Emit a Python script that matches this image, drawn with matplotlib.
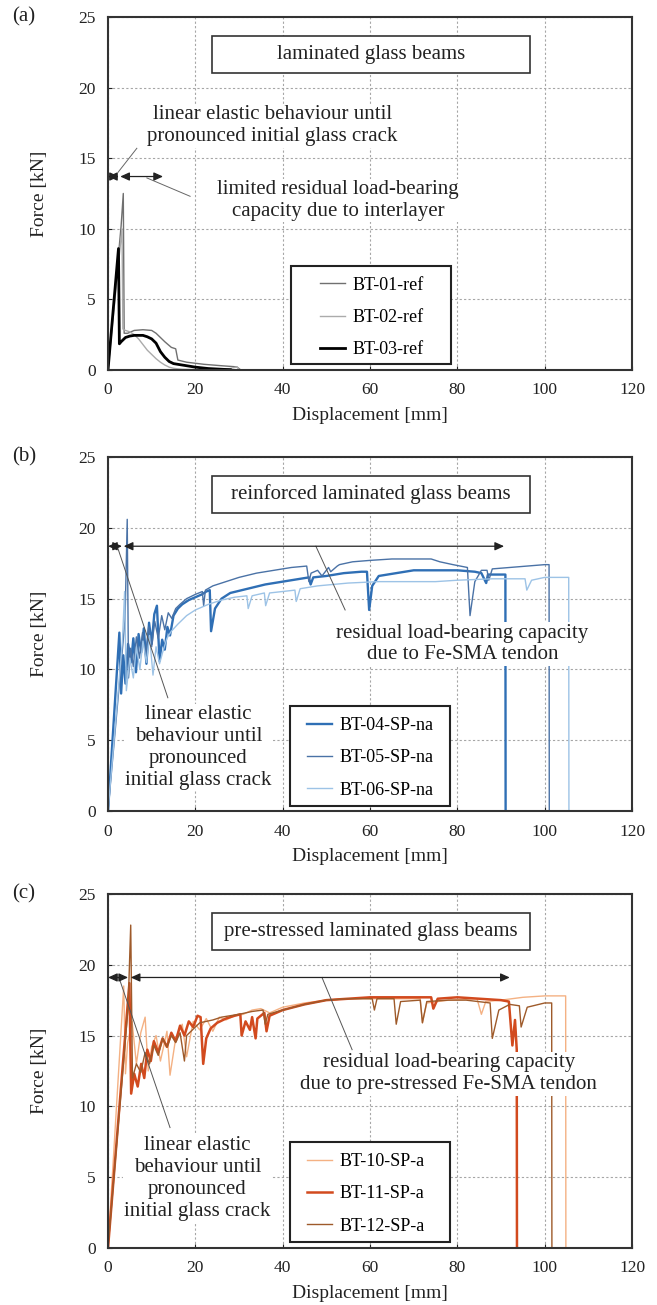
import numpy as np
import matplotlib
matplotlib.use("Agg")
import matplotlib.pyplot as plt
from matplotlib.patches import Rectangle

plt.rcParams['font.family'] = ['Liberation Serif', 'DejaVu Serif']

# (a) laminated glass reference beams
bt01_x = [0, 3.0, 3.5, 3.7, 4.5, 6, 8, 10, 11, 12, 13, 14.5, 15.5, 16, 18, 22, 26, 29.5, 30.2]
bt01_y = [0, 10.2, 12.5, 2.6, 2.6, 2.8, 2.85, 2.8, 2.6, 2.3, 2.0, 1.6, 1.5, 0.7, 0.55, 0.4, 0.3, 0.22, 0.05]
bt02_x = [0, 3.2, 3.4, 4, 5, 6, 7, 8, 9, 10, 11, 12, 13, 14, 15, 16, 17, 20, 25, 28, 29.5, 30]
bt02_y = [0, 10.0, 2.9, 2.8, 2.7, 2.5, 2.2, 1.8, 1.4, 1.1, 0.8, 0.55, 0.35, 0.2, 0.12, 0.08, 0.05, 0.03, 0.05, 0.1, 0.22, 0.05]
bt03_x = [0, 2.4, 2.6, 3, 4, 5, 6, 7, 8, 9, 10, 11, 12, 13, 14, 15, 17, 20, 23, 26, 28]
bt03_y = [0, 8.6, 1.85, 2.0, 2.3, 2.4, 2.45, 2.45, 2.45, 2.35, 2.2, 1.9, 1.3, 0.9, 0.6, 0.45, 0.35, 0.2, 0.1, 0.05, 0.02]

# (b) reinforced beams, non-activated tendon
bt04_x = [0, 2.6, 3.0, 3.5, 4.0, 4.6, 5.3, 5.8, 6.4, 7.0, 7.6, 8.2, 8.8, 9.4, 10.0, 10.6, 11.2,
          11.8, 12.4, 13.0, 13.6, 14.2, 15.0, 16.0, 17.0, 18.5, 20.0, 21.5, 22.5, 23.3, 23.6,
          24.5, 26.0, 28.0, 32.0, 36.0, 40.0, 44.0, 46.0, 46.4, 47.0, 50.0, 54.0, 58.0, 59.3,
          59.8, 60.5, 62.0, 66.0, 70.0, 75.0, 80.0, 84.0, 85.5, 86.6, 87.0, 88.0, 91.0, 91.05]
bt04_y = [0, 12.6, 8.3, 11.0, 9.0, 11.8, 10.5, 12.2, 9.8, 12.5, 11.2, 12.9, 10.4, 13.3, 11.8,
          13.9, 14.5, 10.6, 12.1, 11.4, 13.0, 12.4, 13.8, 14.3, 14.6, 14.9, 15.1, 15.3, 15.5,
          15.6, 12.7, 14.3, 15.0, 15.4, 15.7, 16.0, 16.2, 16.4, 16.5, 16.0, 16.5, 16.6, 16.8,
          16.9, 16.9, 14.2, 15.9, 16.6, 16.8, 17.0, 17.0, 17.0, 16.9, 16.8, 16.1, 16.7, 16.7,
          16.7, 0]
bt05_x = [0, 3.9, 4.4, 4.7, 5.2, 5.8, 6.5, 7.2, 7.9, 8.6, 9.3, 10.0, 10.7, 11.5, 12.3, 13.0,
          13.8, 14.6, 15.5, 16.5, 18.0, 20.0, 21.6, 21.9, 22.3, 24.0, 26.0, 30.0, 34.0, 38.0,
          42.0, 45.5, 46.0, 46.5, 48.0, 49.0, 50.5, 51.0, 52.5, 53.0, 56.0, 60.0, 65.0, 70.0,
          74.0, 76.0, 79.0, 82.3, 82.9, 84.0, 85.5, 86.8, 87.2, 88.0, 92.0, 96.0, 100.0,
          101.0, 101.05]
bt05_y = [0, 13.5, 20.6, 9.4, 11.5, 10.2, 12.3, 10.8, 12.6, 11.0, 13.0, 11.6, 13.4, 12.2,
          13.8, 12.8, 14.0, 13.6, 14.3, 14.6, 15.0, 15.3, 15.5, 14.5, 15.6, 15.9, 16.1, 16.5,
          16.8, 17.0, 17.2, 17.3, 16.2, 16.8, 17.0, 16.6, 17.2, 16.9, 17.3, 17.4, 17.6, 17.7,
          17.8, 17.8, 17.8, 17.6, 17.4, 17.2, 13.8, 16.2, 17.0, 17.0, 16.3, 17.1, 17.2, 17.3,
          17.4, 17.4, 0]
bt06_x = [0, 3.3, 3.8, 4.2, 5.0, 5.8, 6.5, 7.3, 8.0, 8.8, 9.5, 10.3, 11.0, 11.8, 12.5, 13.5,
          14.5, 16.0, 18.0, 20.0, 23.0, 26.0, 29.0, 31.8, 32.1, 33.0, 35.8, 36.1, 37.0, 42.8,
          43.1, 44.0, 48.0, 55.0, 62.0, 70.0, 75.0, 80.0, 88.0, 95.5, 95.9, 97.0, 100.0, 105.5,
          105.55]
bt06_y = [0, 12.0, 15.5, 8.5, 10.8, 9.4, 11.6, 10.0, 12.0, 10.5, 12.4, 9.6, 11.6, 10.4, 11.2,
          12.2, 12.7, 13.2, 13.8, 14.2, 14.6, 14.9, 15.1, 15.2, 14.3, 15.2, 15.4, 14.5, 15.4,
          15.6, 14.8, 15.7, 15.9, 16.1, 16.2, 16.2, 16.2, 16.3, 16.4, 16.4, 15.6, 16.3, 16.5,
          16.5, 0]

# (c) pre-stressed beams, activated tendon
bt10_x = [0, 3.6, 4.0, 4.5, 5.5, 6.5, 7.5, 8.5, 9.2, 10.0, 11.0, 12.0, 13.5, 14.2, 15.5, 17.0,
          18.0, 19.5, 21.0, 22.5, 24.0, 25.5, 27.0, 29.0, 31.0, 33.0, 35.0, 37.0, 40.0, 45.0,
          50.0, 55.0, 60.0, 65.0, 70.0, 71.5, 72.0, 73.0, 78.0, 84.5, 85.5, 86.5, 90.0, 95.0,
          100.0, 104.8, 104.85]
bt10_y = [0, 18.5, 12.3, 14.5, 16.0, 13.0, 15.2, 16.3, 12.5, 14.2, 15.0, 13.2, 15.3, 12.2,
          14.8, 15.8, 13.5, 16.0, 15.4, 16.2, 15.3, 16.3, 16.1, 16.4, 16.5, 16.8, 16.9, 16.6,
          17.0, 17.3, 17.5, 17.6, 17.6, 17.6, 17.6, 17.6, 15.9, 17.3, 17.5, 17.6, 16.5, 17.4,
          17.5, 17.7, 17.8, 17.8, 0]
bt11_x = [0, 4.9, 5.3, 6.0, 6.8, 7.6, 8.3, 9.0, 9.8, 10.5, 11.5, 12.5, 13.5, 14.5, 15.5, 16.5,
          17.5, 18.5, 19.5, 20.5, 21.2, 21.8, 22.5, 23.5, 25.0, 27.0, 29.0, 30.3, 30.6, 31.5,
          32.5, 33.0, 33.8, 34.2, 35.0, 35.8, 36.3, 37.0, 40.0, 45.0, 50.0, 55.0, 60.0, 65.0,
          70.0, 74.0, 74.5, 75.5, 80.0, 85.0, 90.0, 91.8, 92.6, 93.2, 93.6, 93.65]
bt11_y = [0, 18.7, 10.9, 12.3, 11.4, 13.0, 12.0, 14.0, 13.2, 14.6, 13.8, 14.8, 14.2, 15.2,
          14.6, 15.7, 15.0, 16.0, 15.6, 16.4, 16.3, 13.0, 14.8, 15.5, 15.9, 16.2, 16.4, 16.5,
          15.0, 16.0, 15.4, 16.3, 14.8, 16.2, 16.4, 16.6, 15.3, 16.4, 16.8, 17.2, 17.5, 17.6,
          17.7, 17.7, 17.7, 17.7, 16.9, 17.6, 17.7, 17.6, 17.5, 17.4, 14.3, 16.1, 14.0, 0]
bt12_x = [0, 4.6, 5.2, 5.6, 6.5, 7.5, 8.5, 9.5, 10.5, 11.5, 12.5, 13.5, 14.5, 15.5, 16.5, 17.5,
          18.0, 19.0, 20.0, 21.0, 22.5, 24.0, 26.0, 28.0, 30.0, 33.0, 35.5, 36.0, 36.6, 40.0,
          45.0, 50.0, 55.0, 60.5, 61.0, 61.6, 65.5, 66.0, 67.0, 71.5, 72.0, 73.0, 78.0, 82.0,
          87.5, 88.0, 89.5, 92.0, 94.2, 94.6, 96.0, 100.0, 101.6, 101.65]
bt12_y = [0, 17.0, 22.8, 12.0, 13.0, 12.4, 13.8, 13.0, 14.3, 13.6, 14.8, 14.2, 15.0, 14.5,
          15.2, 13.2, 15.0, 15.3, 15.6, 15.9, 16.0, 16.1, 16.3, 16.4, 16.5, 16.7, 16.8, 15.8,
          16.5, 16.8, 17.2, 17.5, 17.6, 17.6, 16.8, 17.6, 17.6, 15.8, 17.4, 17.5, 15.9, 17.4,
          17.5, 17.5, 17.3, 14.8, 16.8, 17.2, 17.1, 15.6, 17.0, 17.3, 17.3, 0]

x_ticks = np.arange(0, 121, 20)
y_ticks = np.arange(0, 26, 5)

fig = plt.figure(figsize=(6.57, 13.05), dpi=100)
left, width = 0.1644, 0.7976
ax_a = fig.add_axes([left, 0.7165, width, 0.2705])
ax_b = fig.add_axes([left, 0.3785, width, 0.2713])
ax_c = fig.add_axes([left, 0.0437, width, 0.2713])


def setup(ax, title):
    ax.set_xlim(0, 120)
    ax.set_ylim(0, 25)
    ax.set_xticks(x_ticks)
    ax.set_yticks(y_ticks)
    ax.grid(True, color='#a6a6a6', ls=(0, (2, 2)), lw=0.8)
    ax.set_axisbelow(True)
    ax.tick_params(direction='in', length=3, pad=9, labelsize=12.5, colors='#222222')
    for s in ax.spines.values():
        s.set_linewidth(1.5)
        s.set_color('#333333')
    ax.set_xlabel('Displacement [mm]', fontsize=14, color='#222222')
    ax.set_ylabel('Force [kN]', fontsize=14, color='#222222')
    ax.xaxis.set_label_coords(0.5, -0.105)
    ax.yaxis.set_label_coords(-0.115, 0.5)
    ax.add_patch(Rectangle((0.198, 0.842), 0.607, 0.105, transform=ax.transAxes,
                           fc='white', ec='#333333', lw=1.2, zorder=5))
    ax.text(0.5015, 0.8945, title, transform=ax.transAxes, ha='center', va='center',
            fontsize=15, color='#222222', zorder=6)


def legend_box(ax, anchor, box):
    leg = ax.legend(loc='upper left', bbox_to_anchor=anchor, frameon=False, borderpad=0,
                    borderaxespad=0, handlelength=1.35, handletextpad=0.45,
                    labelspacing=0.85, fontsize=13)
    leg.set_zorder(8)
    ax.add_patch(Rectangle(box[:2], box[2], box[3], transform=ax.transAxes,
                           fc='white', ec='#222222', lw=1.5, zorder=7))


def span_arrow(ax, x0, x1, y):
    ax.annotate('', xy=(x1, y), xytext=(x0, y),
                arrowprops=dict(arrowstyle='<|-|>,head_length=0.55,head_width=0.25',
                                color='#222222', lw=0.9, shrinkA=0, shrinkB=0,
                                mutation_scale=10), zorder=4)


def note(ax, x, y, s):
    ax.text(x, y, s, ha='center', va='center', multialignment='center', fontsize=15,
            color='#222222', linespacing=1.2, zorder=6,
            bbox=dict(fc='white', ec='none', pad=1))


# (a)
setup(ax_a, 'laminated glass beams')
ax_a.plot(bt01_x, bt01_y, color='#707070', lw=1.0, label='BT-01-ref')
ax_a.plot(bt02_x, bt02_y, color='#ababab', lw=1.0, label='BT-02-ref')
ax_a.plot(bt03_x, bt03_y, color='#000000', lw=2.0, label='BT-03-ref')
span_arrow(ax_a, 0, 2.5, 13.7)
span_arrow(ax_a, 2.8, 12.6, 13.7)
ax_a.plot([2.3, 6.6], [14.0, 15.7], color='#666666', lw=0.7)
ax_a.plot([8.9, 18.8], [13.6, 12.3], color='#666666', lw=0.7)
note(ax_a, 37.6, 17.3, 'linear elastic behaviour until\npronounced initial glass crack')
note(ax_a, 52.7, 12.0, 'limited residual load-bearing\ncapacity due to interlayer')
legend_box(ax_a, (0.405, 0.264), (0.349, 0.017, 0.305, 0.278))

# (b)
setup(ax_b, 'reinforced laminated glass beams')
ax_b.plot(bt04_x, bt04_y, color='#2f6fb5', lw=1.7, label='BT-04-SP-na')
ax_b.plot(bt05_x, bt05_y, color='#4a72a6', lw=1.0, label='BT-05-SP-na')
ax_b.plot(bt06_x, bt06_y, color='#9dc3e6', lw=1.0, label='BT-06-SP-na')
span_arrow(ax_b, 0, 3.2, 18.7)
span_arrow(ax_b, 3.6, 90.7, 18.7)
ax_b.plot([2.1, 13.7], [18.7, 8.0], color='#555555', lw=0.7)
ax_b.plot([47.6, 54.3], [18.7, 14.2], color='#555555', lw=0.7)
note(ax_b, 20.7, 4.5, 'linear elastic\nbehaviour until\npronounced\ninitial glass crack')
note(ax_b, 81.2, 11.8, 'residual load-bearing capacity\ndue to Fe-SMA tendon')
legend_box(ax_b, (0.380, 0.266), (0.347, 0.014, 0.305, 0.283))

# (c)
setup(ax_c, 'pre-stressed laminated glass beams')
ax_c.plot(bt10_x, bt10_y, color='#f4b183', lw=1.0, label='BT-10-SP-a')
ax_c.plot(bt11_x, bt11_y, color='#d24a1e', lw=1.8, label='BT-11-SP-a')
ax_c.plot(bt12_x, bt12_y, color='#9e5a2a', lw=1.0, label='BT-12-SP-a')
span_arrow(ax_c, 0, 4.6, 19.1)
span_arrow(ax_c, 5.2, 92, 19.1)
ax_c.plot([2.5, 14.2], [19.1, 8.5], color='#555555', lw=0.7)
ax_c.plot([49.0, 55.9], [19.1, 14.0], color='#555555', lw=0.7)
note(ax_c, 20.5, 4.9, 'linear elastic\nbehaviour until\npronounced\ninitial glass crack')
note(ax_c, 78.0, 12.3, 'residual load-bearing capacity\ndue to pre-stressed Fe-SMA tendon')
legend_box(ax_c, (0.380, 0.268), (0.347, 0.017, 0.305, 0.282))

for ax, tag in [(ax_a, '(a)'), (ax_b, '(b)'), (ax_c, '(c)')]:
    top = ax.get_position().y1
    fig.text(0.018, top, tag, ha='left', va='center', fontsize=15, color='#222222')

fig.savefig('out.png', dpi=100)
